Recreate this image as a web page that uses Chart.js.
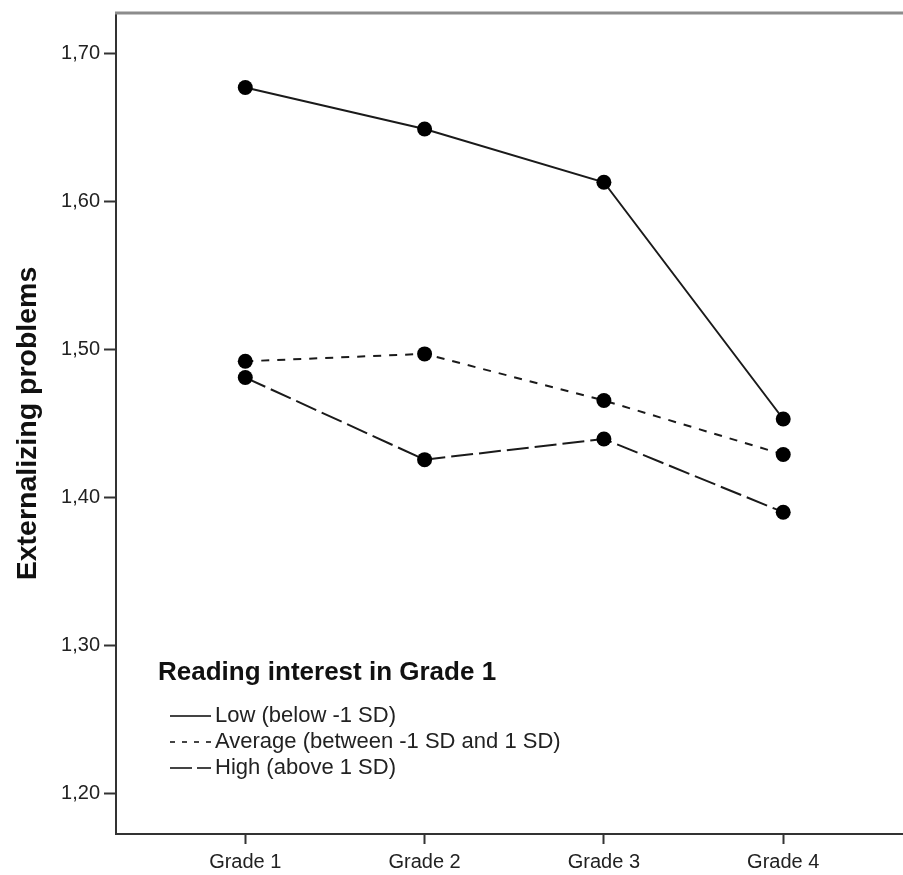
<!DOCTYPE html>
<html><head><meta charset="utf-8">
<script src="https://cdn.jsdelivr.net/npm/chart.js@4.4.0/dist/chart.umd.min.js"></script>
<style>html,body{margin:0;padding:0;background:#fff;} canvas{display:block}</style>
</head><body>
<canvas id="c" width="903" height="875"></canvas>
<script>
const categories = ['Grade 1', 'Grade 2', 'Grade 3', 'Grade 4'];
const seriesNames = ['Low (below -1 SD)', 'Average (between -1 SD and 1 SD)', 'High (above 1 SD)'];
const lowValues = [1.677, 1.649, 1.613, 1.453];
const averageValues = [1.492, 1.497, 1.4655, 1.429];
const highValues = [1.481, 1.4255, 1.4395, 1.390];
const yTickValues = [1.2, 1.3, 1.4, 1.5, 1.6, 1.7];
const legendTitle = 'Reading interest in Grade 1';
const yAxisTitle = 'Externalizing problems';

const FONT = 'Liberation Sans';
const toPoints = vals => vals.map((v, i) => ({ x: i + 1, y: v }));
const lineDashes = [[], [8, 8], [22, 6]];
const legendDashes = [[], [5, 7], [22, 5]];

const commonDs = {
  borderColor: '#1a1a1a', borderWidth: 2,
  pointRadius: 7.5, pointHoverRadius: 7.5,
  pointBackgroundColor: '#000', pointBorderColor: '#000', pointBorderWidth: 0,
  fill: false, tension: 0
};

const topBorder = {
  id: 'topBorder',
  afterDraw(chart) {
    const { ctx, chartArea: a } = chart;
    ctx.save();
    ctx.strokeStyle = '#8c8c8c';
    ctx.lineWidth = 3;
    ctx.beginPath();
    ctx.moveTo(a.left - 1, a.top);
    ctx.lineTo(chart.width, a.top);
    ctx.stroke();
    ctx.restore();
  }
};

const innerLegend = {
  id: 'innerLegend',
  afterDraw(chart) {
    const { ctx } = chart;
    ctx.save();
    ctx.fillStyle = '#111';
    ctx.textBaseline = 'middle';
    ctx.textAlign = 'left';
    ctx.font = 'bold 26px "' + FONT + '"';
    ctx.fillText(legendTitle, 158, 673);
    ctx.font = '22px "' + FONT + '"';
    seriesNames.forEach((name, i) => {
      const y = 716 + i * 26;
      ctx.strokeStyle = '#444';
      ctx.lineWidth = 2;
      ctx.setLineDash(legendDashes[i]);
      ctx.beginPath();
      ctx.moveTo(170, y);
      ctx.lineTo(211, y);
      ctx.stroke();
      ctx.setLineDash([]);
      ctx.fillStyle = '#222';
      ctx.fillText(name, 215, y);
    });
    ctx.restore();
  }
};

new Chart(document.getElementById('c'), {
  type: 'line',
  data: {
    datasets: [
      Object.assign({ label: seriesNames[0], data: toPoints(lowValues), borderDash: lineDashes[0] }, commonDs),
      Object.assign({ label: seriesNames[1], data: toPoints(averageValues), borderDash: lineDashes[1] }, commonDs),
      Object.assign({ label: seriesNames[2], data: toPoints(highValues), borderDash: lineDashes[2] }, commonDs)
    ]
  },
  options: {
    responsive: false,
    devicePixelRatio: 1,
    animation: false,
    layout: { autoPadding: false, padding: { top: 13, left: 0, right: 0, bottom: 0 } },
    plugins: { legend: { display: false }, tooltip: { enabled: false } },
    scales: {
      x: {
        type: 'linear', min: 0.279, max: 4.668,
        afterBuildTicks: s => { s.ticks = categories.map((c, i) => ({ value: i + 1 })); },
        afterFit: s => { s.height = 41; s.paddingLeft = 0; s.paddingRight = 0; },
        ticks: {
          callback: v => categories[Math.round(v) - 1] || '',
          font: { family: FONT, size: 20 }, color: '#222', padding: 6,
          maxRotation: 0, autoSkip: false
        },
        grid: { drawOnChartArea: false, tickLength: 10, tickColor: '#333', tickWidth: 2 },
        border: { color: '#333', width: 2 }
      },
      y: {
        type: 'linear', min: 1.1725, max: 1.7274,
        afterBuildTicks: s => { s.ticks = yTickValues.map(v => ({ value: v })); },
        afterFit: s => { s.width = 116; s.paddingTop = 0; s.paddingBottom = 0; },
        ticks: {
          callback: v => v.toFixed(2).replace('.', ','),
          font: { family: FONT, size: 20 }, color: '#222', padding: 4
        },
        grid: { drawOnChartArea: false, tickLength: 12, tickColor: '#333', tickWidth: 2 },
        border: { color: '#333', width: 2 },
        title: {
          display: true, text: yAxisTitle,
          font: { family: FONT, size: 28.5, weight: 'bold' }, color: '#111',
          padding: { top: 11, bottom: 0 }
        }
      }
    }
  },
  plugins: [topBorder, innerLegend]
});
</script>
</body></html>
